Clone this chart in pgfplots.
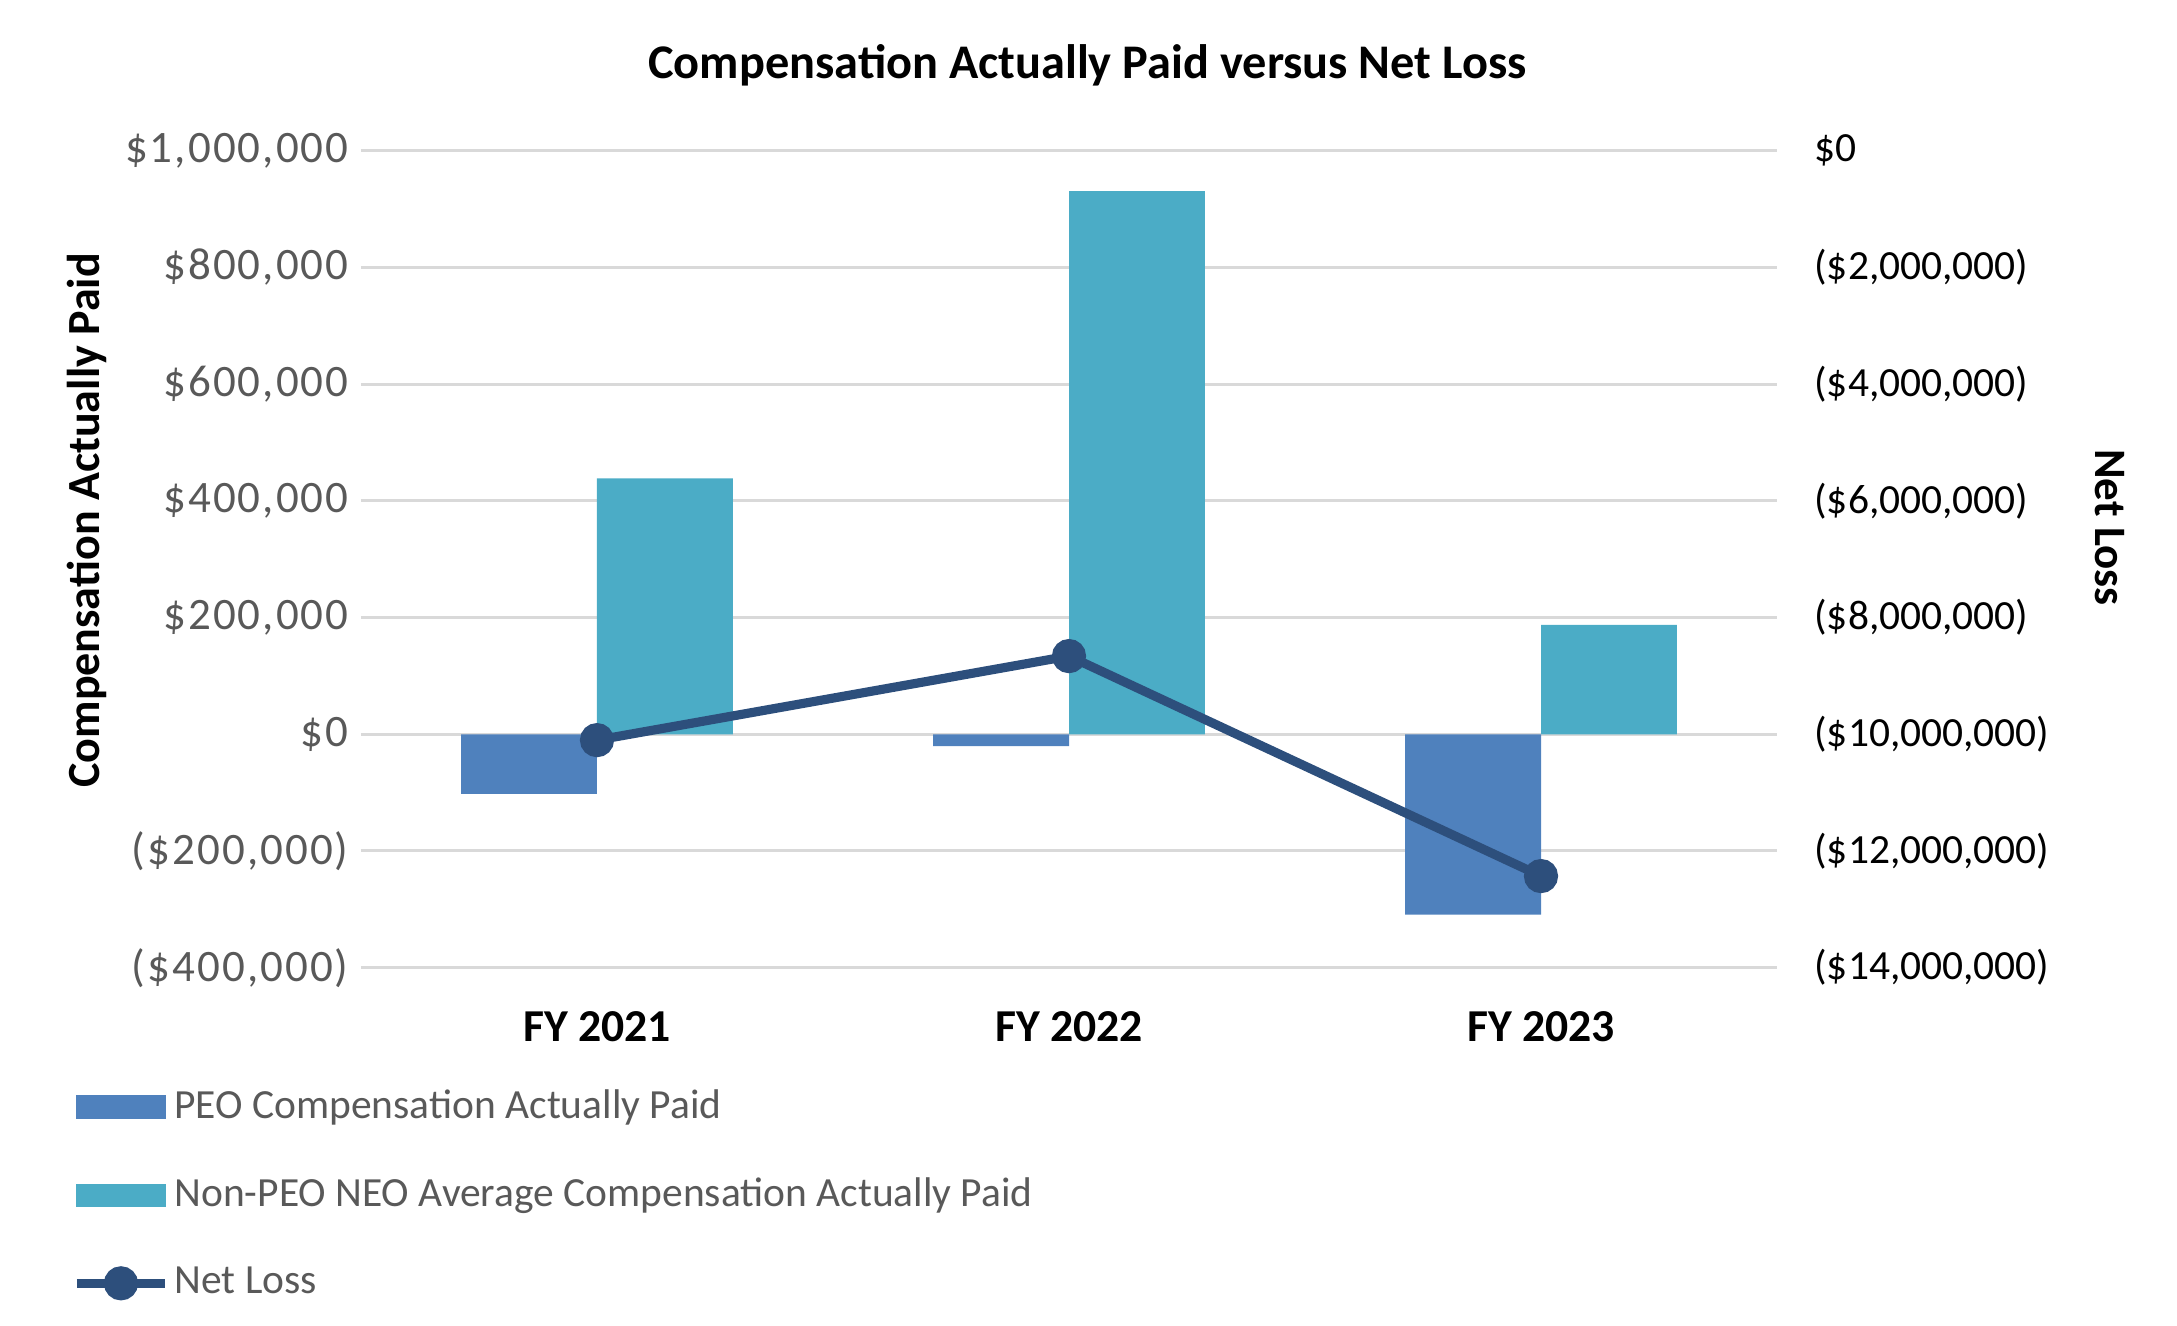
\documentclass[border=0pt]{standalone}
\usepackage{fontspec}
\setmainfont{Carlito}
\usepackage{pgfplots}
\pgfplotsset{compat=1.18}
\definecolor{peo}{HTML}{4F81BD}
\definecolor{neo}{HTML}{4BACC6}
\definecolor{loss}{HTML}{2D4F7C}
\definecolor{gridc}{HTML}{D9D9D9}
\definecolor{txt}{HTML}{595959}
\newcommand{\fs}[1]{\fontsize{#1}{#1}\selectfont}
\begin{document}
\begin{tikzpicture}
\useasboundingbox (-36.1mm,-35.83mm) rectangle (181.6mm,96.77mm);
% left axis: bars
\begin{axis}[
  at={(0,0)}, anchor=south west, scale only axis,
  width=141.6mm, height=81.69mm,
  xmin=-0.5, xmax=2.5, ymin=-400000, ymax=1000000,
  scaled y ticks=false,
  xtick={0,1,2}, xticklabels={FY 2021,FY 2022,FY 2023},
  xticklabel style={anchor=center, yshift=-5.9mm, font=\bfseries\fs{13}},
  ytick={-400000,-200000,0,200000,400000,600000,800000,1000000},
  yticklabels={{(\$400,000)},{(\$200,000)},{\$0},{\$200,000},{\$400,000},{\$600,000},{\$800,000},{\$1,000,000}},
  yticklabel style={text=txt, font={\fs{12.8}\addfontfeatures{LetterSpace=4.6}}},
  axis line style={draw=none}, major tick length=0pt,
  ymajorgrids, grid style={gridc, line width=0.85pt},
  ybar=0pt, bar width=0.288,
  title={Compensation Actually Paid versus Net Loss},
  title style={at={(axis description cs:0.513,1)}, anchor=center, yshift=6.47mm, font=\bfseries\fs{13.75}},
  ylabel={Compensation Actually Paid},
  ylabel style={at={(axis description cs:-0.1932,0.5476)}, anchor=center, font=\bfseries\fs{13.1}},
]
\addplot[fill=peo, draw=none] coordinates {(0,-102000) (1,-20400) (2,-309000)};
\addplot[fill=neo, draw=none] coordinates {(0,438700) (1,931000) (2,187300)};
\end{axis}
% right axis: net loss line
\begin{axis}[
  at={(0,0)}, anchor=south west, scale only axis,
  width=141.6mm, height=81.69mm,
  xmin=-0.5, xmax=2.5, ymin=-14000000, ymax=0,
  scaled y ticks=false,
  axis y line*=right, axis x line=none,
  axis line style={draw=none}, major tick length=0pt,
  ytick={-14000000,-12000000,-10000000,-8000000,-6000000,-4000000,-2000000,0},
  yticklabels={{(\$14,000,000)},{(\$12,000,000)},{(\$10,000,000)},{(\$8,000,000)},{(\$6,000,000)},{(\$4,000,000)},{(\$2,000,000)},{\$0}},
  yticklabel style={anchor=west, xshift=2.5mm, font=\fs{11.8}},
  ylabel={Net Loss},
  ylabel style={at={(axis description cs:1.2352,0.539)}, anchor=center, rotate=180, font=\bfseries\fs{12.8}},
  legend cell align=left,
  legend style={at={(axis description cs:-0.2043,-0.149)}, anchor=north west,
    draw=none, fill=none, inner sep=0pt, row sep=5.4mm, column sep=0.5mm,
    nodes={inner sep=0pt, text=txt, font=\fs{11.8}}},
]
\addlegendimage{legend image code/.code={\fill[peo] (0mm,-1.1mm) rectangle (8.8mm,1.1mm);}}
\addlegendentry{PEO Compensation Actually Paid}
\addlegendimage{legend image code/.code={\fill[neo] (0mm,-1.1mm) rectangle (8.8mm,1.1mm);}}
\addlegendentry{Non-PEO NEO Average Compensation Actually Paid}
\addplot[loss, line width=2.6pt, mark=*, mark size=1.25mm, mark options={draw=none, fill=loss},
  legend image code/.code={\draw[loss, line width=2.6pt] (0mm,0mm) -- (8.8mm,0mm); \fill[loss] (4.4mm,0mm) circle (1.25mm);}]
  coordinates {(0,-10100000) (1,-8660000) (2,-12430000)};
\addlegendentry{Net Loss}
\end{axis}
\end{tikzpicture}
\end{document}
